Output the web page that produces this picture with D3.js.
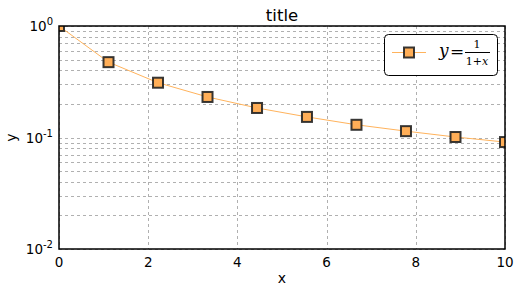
<!DOCTYPE html>
<html>
<head>
<meta charset="utf-8">
<script src="https://cdn.jsdelivr.net/npm/d3@7"></script>
<style>
  body { margin: 0; background: #fff; }
  text { font-family: "DejaVu Sans", sans-serif; fill: #000; }
</style>
</head>
<body>
<div id="chart"></div>
<script>
var svgWidth = 519;
var svgHeight = 293;

var margin = { top: 26, right: 14, bottom: 44, left: 59 };
var width = svgWidth - margin.left - margin.right;
var height = svgHeight - margin.top - margin.bottom;

// values
var xValues = [0, 1.11, 2.22, 3.33, 4.44, 5.56, 6.67, 7.78, 8.89, 10];
var yValues = [1.0, 0.474, 0.31, 0.231, 0.184, 0.153, 0.13, 0.114, 0.101, 0.091];
var xTicks = [0, 2, 4, 6, 8, 10];
var yTicks = [0.01, 0.1, 1];
var yExponents = ["-2", "-1", "0"];
var yMinor = [0.02, 0.03, 0.04, 0.05, 0.06, 0.07, 0.08, 0.09,
              0.2, 0.3, 0.4, 0.5, 0.6, 0.7, 0.8, 0.9];

var lineColor = "#ffb35c";
var markerFill = "#ffae57";

var points = xValues.map(function(x, i) { return { x: x, y: yValues[i] }; });

var svg = d3.select("#chart")
  .append("svg")
  .attr("width", svgWidth)
  .attr("height", svgHeight);

svg.append("defs").append("clipPath")
  .attr("id", "clip")
  .append("rect")
  .attr("width", width)
  .attr("height", height);

var chartGroup = svg.append("g")
  .attr("transform", `translate(${margin.left}, ${margin.top})`);

var xScale = d3.scaleLinear().domain([0, 10]).range([0, width]);
var yScale = d3.scaleLog().domain([0.01, 1]).range([height, 0]);

// grid
var gridGroup = chartGroup.append("g")
  .attr("stroke", "#b0b0b0")
  .attr("stroke-width", 1)
  .attr("stroke-dasharray", "3,3");

gridGroup.selectAll(".ygrid")
  .data(yTicks.concat(yMinor))
  .enter()
  .append("line")
  .attr("x1", 0)
  .attr("x2", width)
  .attr("y1", d => Math.round(yScale(d)) + 0.5)
  .attr("y2", d => Math.round(yScale(d)) + 0.5);

gridGroup.selectAll(".xgrid")
  .data(xTicks)
  .enter()
  .append("line")
  .attr("x1", d => Math.round(xScale(d)) + 0.5)
  .attr("x2", d => Math.round(xScale(d)) + 0.5)
  .attr("y1", 0)
  .attr("y2", height);

// data
var plotGroup = chartGroup.append("g").attr("clip-path", "url(#clip)");

var line = d3.line()
  .x(d => xScale(d.x))
  .y(d => yScale(d.y));

plotGroup.append("path")
  .datum(points)
  .attr("d", line)
  .attr("fill", "none")
  .attr("stroke", lineColor)
  .attr("stroke-width", 1);

var ms = 10;
plotGroup.selectAll(".marker")
  .data(points)
  .enter()
  .append("rect")
  .attr("x", d => xScale(d.x) - ms / 2)
  .attr("y", d => yScale(d.y) - ms / 2)
  .attr("width", ms)
  .attr("height", ms)
  .attr("fill", markerFill)
  .attr("stroke", "#222")
  .attr("stroke-opacity", 0.9)
  .attr("stroke-width", 2);

// frame
chartGroup.append("rect")
  .attr("width", width)
  .attr("height", height)
  .attr("fill", "none")
  .attr("stroke", "#000")
  .attr("stroke-width", 1.5);

// x tick labels
chartGroup.selectAll(".xlabel")
  .data(xTicks)
  .enter()
  .append("text")
  .attr("x", d => xScale(d))
  .attr("y", height + 18)
  .attr("text-anchor", "middle")
  .style("font-size", "13.5px")
  .text(d => d);

// y tick labels with exponents
var yLab = chartGroup.selectAll(".ylabel")
  .data(yTicks)
  .enter()
  .append("text")
  .attr("x", -6)
  .attr("y", d => yScale(d) + 5)
  .attr("text-anchor", "end")
  .style("font-size", "13.5px");
yLab.append("tspan").text("10");
yLab.append("tspan")
  .attr("dy", -6)
  .style("font-size", "10px")
  .text((d, i) => yExponents[i]);

// title and axis labels
svg.append("text")
  .attr("x", margin.left + width / 2)
  .attr("y", 21)
  .attr("text-anchor", "middle")
  .style("font-size", "16.5px")
  .text("title");

svg.append("text")
  .attr("x", margin.left + width / 2)
  .attr("y", 283)
  .attr("text-anchor", "middle")
  .style("font-size", "14px")
  .text("x");

svg.append("text")
  .attr("transform", `translate(16, ${margin.top + height / 2}) rotate(-90)`)
  .attr("text-anchor", "middle")
  .style("font-size", "14px")
  .text("y");

// legend
var legend = svg.append("g").attr("transform", "translate(384, 34)");
legend.append("rect")
  .attr("x", 0.5)
  .attr("y", 0.5)
  .attr("width", 113)
  .attr("height", 41)
  .attr("rx", 4)
  .attr("fill", "#fff")
  .attr("stroke", "#000")
  .attr("stroke-width", 1);
legend.append("line")
  .attr("x1", 8).attr("x2", 42)
  .attr("y1", 18.5).attr("y2", 18.5)
  .attr("stroke", lineColor)
  .attr("stroke-width", 1);
legend.append("rect")
  .attr("x", 20).attr("y", 13.5)
  .attr("width", ms).attr("height", ms)
  .attr("fill", markerFill)
  .attr("stroke", "#222")
  .attr("stroke-opacity", 0.9)
  .attr("stroke-width", 2);

var mathFont = "'DejaVu Serif', serif";
legend.append("text")
  .attr("x", 55).attr("y", 22)
  .style("font-family", mathFont)
  .style("font-style", "italic")
  .style("font-size", "17px")
  .text("y");
legend.append("text")
  .attr("x", 66).attr("y", 23)
  .style("font-family", mathFont)
  .style("font-size", "17px")
  .text("=");
legend.append("text")
  .attr("x", 93).attr("y", 14)
  .attr("text-anchor", "middle")
  .style("font-family", mathFont)
  .style("font-size", "11px")
  .text("1");
legend.append("line")
  .attr("x1", 81).attr("x2", 106)
  .attr("y1", 18.5).attr("y2", 18.5)
  .attr("stroke", "#000")
  .attr("stroke-width", 1);
var den = legend.append("text")
  .attr("x", 93).attr("y", 31)
  .attr("text-anchor", "middle")
  .style("font-family", mathFont)
  .style("font-size", "11px");
den.append("tspan").text("1+");
den.append("tspan").style("font-style", "italic").text("x");
</script>
</body>
</html>
